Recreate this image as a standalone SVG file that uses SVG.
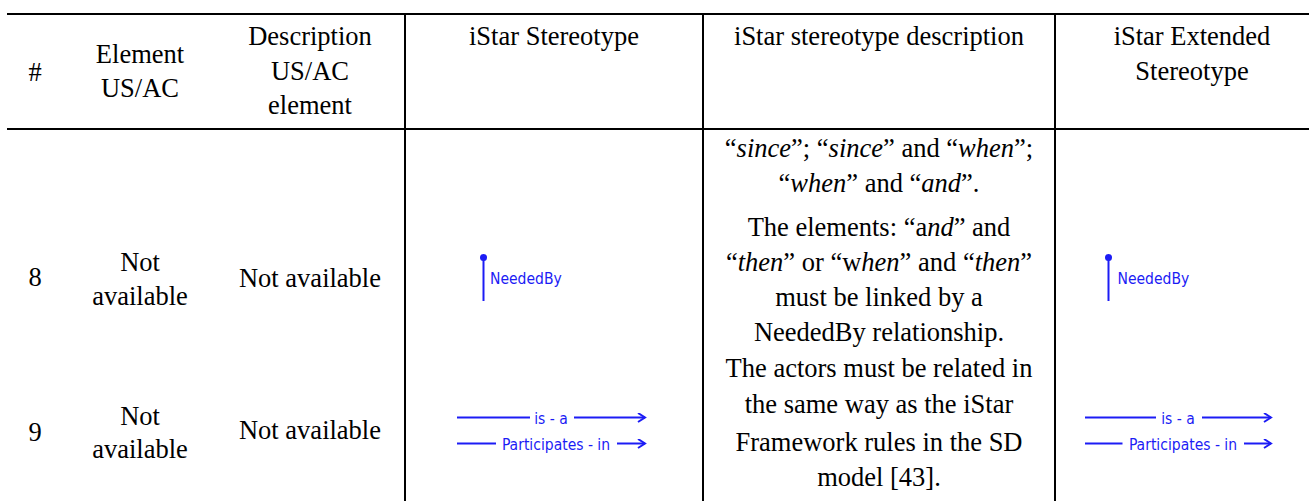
<svg xmlns="http://www.w3.org/2000/svg" width="1309" height="501" viewBox="0 0 1309 501">
  <style>
    .rule { stroke: #000; stroke-width: 2; fill: none; }
    .cell { font-family: "Liberation Serif", "Times New Roman", serif; font-size: 26.5px; fill: #000; text-anchor: middle; }
    .it { font-style: italic; }
    .lbl { font-family: "DejaVu Sans Condensed", "DejaVu Sans", sans-serif; font-stretch: condensed; font-size: 15.5px; fill: #1c1cf5; }
    .link { stroke: #1c1cf5; stroke-width: 2; fill: none; }
  </style>
  <defs>
    <marker id="open-arrow" markerUnits="userSpaceOnUse" markerWidth="12" markerHeight="12" refX="8" refY="5" orient="auto">
      <path d="M1,0.5 L8,5 L1,9.5" fill="none" stroke="#1c1cf5" stroke-width="2"/>
    </marker>
  </defs>
  <rect width="1309" height="501" fill="#fff"/>

  <!-- table rules -->
  <g id="table-rules" class="rule">
    <line x1="7" y1="14" x2="1309" y2="14"/>
    <line x1="7" y1="129" x2="1309" y2="129"/>
    <line x1="405" y1="14" x2="405" y2="501"/>
    <line x1="703" y1="14" x2="703" y2="501"/>
    <line x1="1055" y1="14" x2="1055" y2="501"/>
  </g>

  <!-- header row -->
  <g id="header" class="cell">
    <text x="35" y="81">#</text>
    <text x="140" y="63">Element</text>
    <text x="140" y="97">US/AC</text>
    <text x="310" y="45">Description</text>
    <text x="310" y="80">US/AC</text>
    <text x="310" y="114">element</text>
    <text x="554" y="45">iStar Stereotype</text>
    <text x="879" y="45">iStar stereotype description</text>
    <text x="1192" y="45">iStar Extended</text>
    <text x="1192" y="80">Stereotype</text>
  </g>

  <!-- row 8 -->
  <g id="row-8" class="cell">
    <text x="35" y="286">8</text>
    <text x="140" y="271">Not</text>
    <text x="140" y="305">available</text>
    <text x="310" y="287">Not available</text>
  </g>

  <!-- row 9 -->
  <g id="row-9" class="cell">
    <text x="35" y="441">9</text>
    <text x="140" y="425">Not</text>
    <text x="140" y="458">available</text>
    <text x="310" y="439">Not available</text>
  </g>

  <!-- stereotype description column -->
  <g id="description" class="cell">
    <text x="879" y="157">“<tspan class="it">since</tspan>”; “<tspan class="it">since</tspan>” and “<tspan class="it">when</tspan>”;</text>
    <text x="879" y="192">“<tspan class="it">when</tspan>” and “<tspan class="it">and</tspan>”.</text>
    <text x="879" y="236">The elements: “a<tspan class="it">nd</tspan>” and</text>
    <text x="879" y="271">“<tspan class="it">then</tspan>” or “w<tspan class="it">hen</tspan>” and “<tspan class="it">then</tspan>”</text>
    <text x="879" y="306">must be linked by a</text>
    <text x="879" y="341">NeededBy relationship.</text>
    <text x="879" y="377">The actors must be related in</text>
    <text x="879" y="413">the same way as the iStar</text>
    <text x="879" y="451">Framework rules in the SD</text>
    <text x="879" y="486">model [43].</text>
  </g>

  <!-- NeededBy stereotype icons -->
  <g id="neededby-stereotype">
    <line class="link" x1="483.5" y1="258" x2="483.5" y2="301"/>
    <circle cx="483.5" cy="257.5" r="3.5" fill="#1c1cf5"/>
    <text class="lbl" x="490" y="284">NeededBy</text>
  </g>
  <g id="neededby-extended">
    <line class="link" x1="1108.5" y1="258" x2="1108.5" y2="301"/>
    <circle cx="1108.5" cy="257.5" r="3.5" fill="#1c1cf5"/>
    <text class="lbl" x="1117.5" y="284">NeededBy</text>
  </g>

  <!-- is-a / participates-in links -->
  <g id="connectors">
    <line class="link" x1="457" y1="417.5" x2="530" y2="417.5"/>
    <line class="link" x1="574" y1="417.5" x2="645" y2="417.5" marker-end="url(#open-arrow)"/>
    <line class="link" x1="457" y1="443.5" x2="496" y2="443.5"/>
    <line class="link" x1="617" y1="443.5" x2="645" y2="443.5" marker-end="url(#open-arrow)"/>
    <line class="link" x1="1085" y1="417.5" x2="1156" y2="417.5"/>
    <line class="link" x1="1202" y1="417.5" x2="1271" y2="417.5" marker-end="url(#open-arrow)"/>
    <line class="link" x1="1085" y1="443.5" x2="1122.5" y2="443.5"/>
    <line class="link" x1="1244" y1="443.5" x2="1271" y2="443.5" marker-end="url(#open-arrow)"/>
  </g>
  <g id="link-labels" class="lbl" text-anchor="middle">
    <text x="551" y="423.5">is - a</text>
    <text x="556" y="449.5">Participates - in</text>
    <text x="1178" y="423.5">is - a</text>
    <text x="1183" y="449.5">Participates - in</text>
  </g>
</svg>
